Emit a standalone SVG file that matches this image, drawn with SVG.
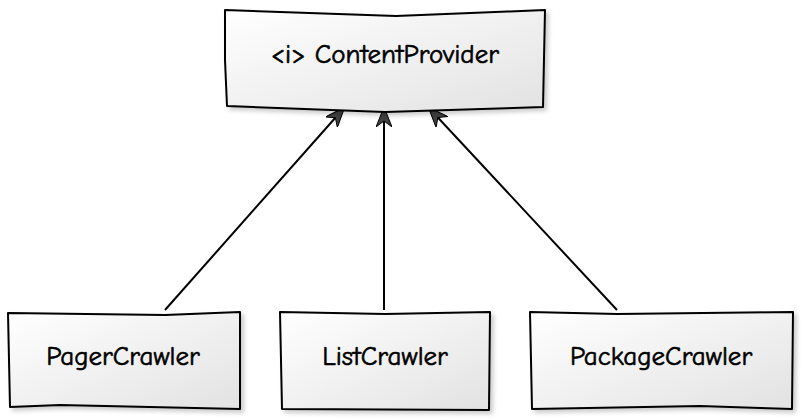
<svg xmlns="http://www.w3.org/2000/svg" width="801" height="419" viewBox="0 0 801 419">
<style>
.box{fill:url(#g);stroke:#000;stroke-width:2;stroke-linejoin:round;filter:url(#sh)}
.lbl{font-family:"Comic Neue","Liberation Sans",sans-serif;font-size:27px;fill:#000;stroke:#000;stroke-width:0.6;text-anchor:middle;dominant-baseline:central}
.edge{fill:none;stroke:#000;stroke-width:2}
</style>
<defs>
<linearGradient id="g" x1="0" y1="0" x2="1" y2="1">
<stop offset="0" stop-color="#ffffff"/>
<stop offset="1" stop-color="#e2e2e2"/>
</linearGradient>
<filter id="sh" x="-10%" y="-10%" width="130%" height="130%">
<feDropShadow dx="3" dy="3" stdDeviation="2" flood-color="#000" flood-opacity="0.2"/>
</filter>
<marker id="ah" viewBox="0 0 20 16" refX="19" refY="8" markerWidth="20" markerHeight="16" markerUnits="userSpaceOnUse" orient="auto">
<path d="M0,0 L20,8 L0,16 L6,8 Z" fill="#404040" stroke="#000" stroke-width="1"/>
</marker>
</defs>
<g id="connectors">
<path class="edge" d="M165,310 L344,108" marker-end="url(#ah)"/>
<path class="edge" d="M384,310 L384,108" marker-end="url(#ah)"/>
<path class="edge" d="M617,310 L429,108" marker-end="url(#ah)"/>
</g>
<g id="ContentProvider">
<path class="box" d="M225,10 L396,16 L545,10 L543,107 L385,112 L227,106 L225,60 Z"/>
<text class="lbl" x="385" y="54">&lt;i&gt; ContentProvider</text>
</g>
<g id="PagerCrawler">
<path class="box" d="M8,313 L165,315 L240,312 L240,409 L60,405 L10,407 Z"/>
<text class="lbl" x="123" y="356">PagerCrawler</text>
</g>
<g id="ListCrawler">
<path class="box" d="M280,312 L385,314 L490,312 L489,410 L282,409 Z"/>
<text class="lbl" x="385" y="356">ListCrawler</text>
</g>
<g id="PackageCrawler">
<path class="box" d="M530,312 L617,314 L793,312 L792,409 L700,406 L532,409 Z"/>
<text class="lbl" x="661" y="356">PackageCrawler</text>
</g>
</svg>
